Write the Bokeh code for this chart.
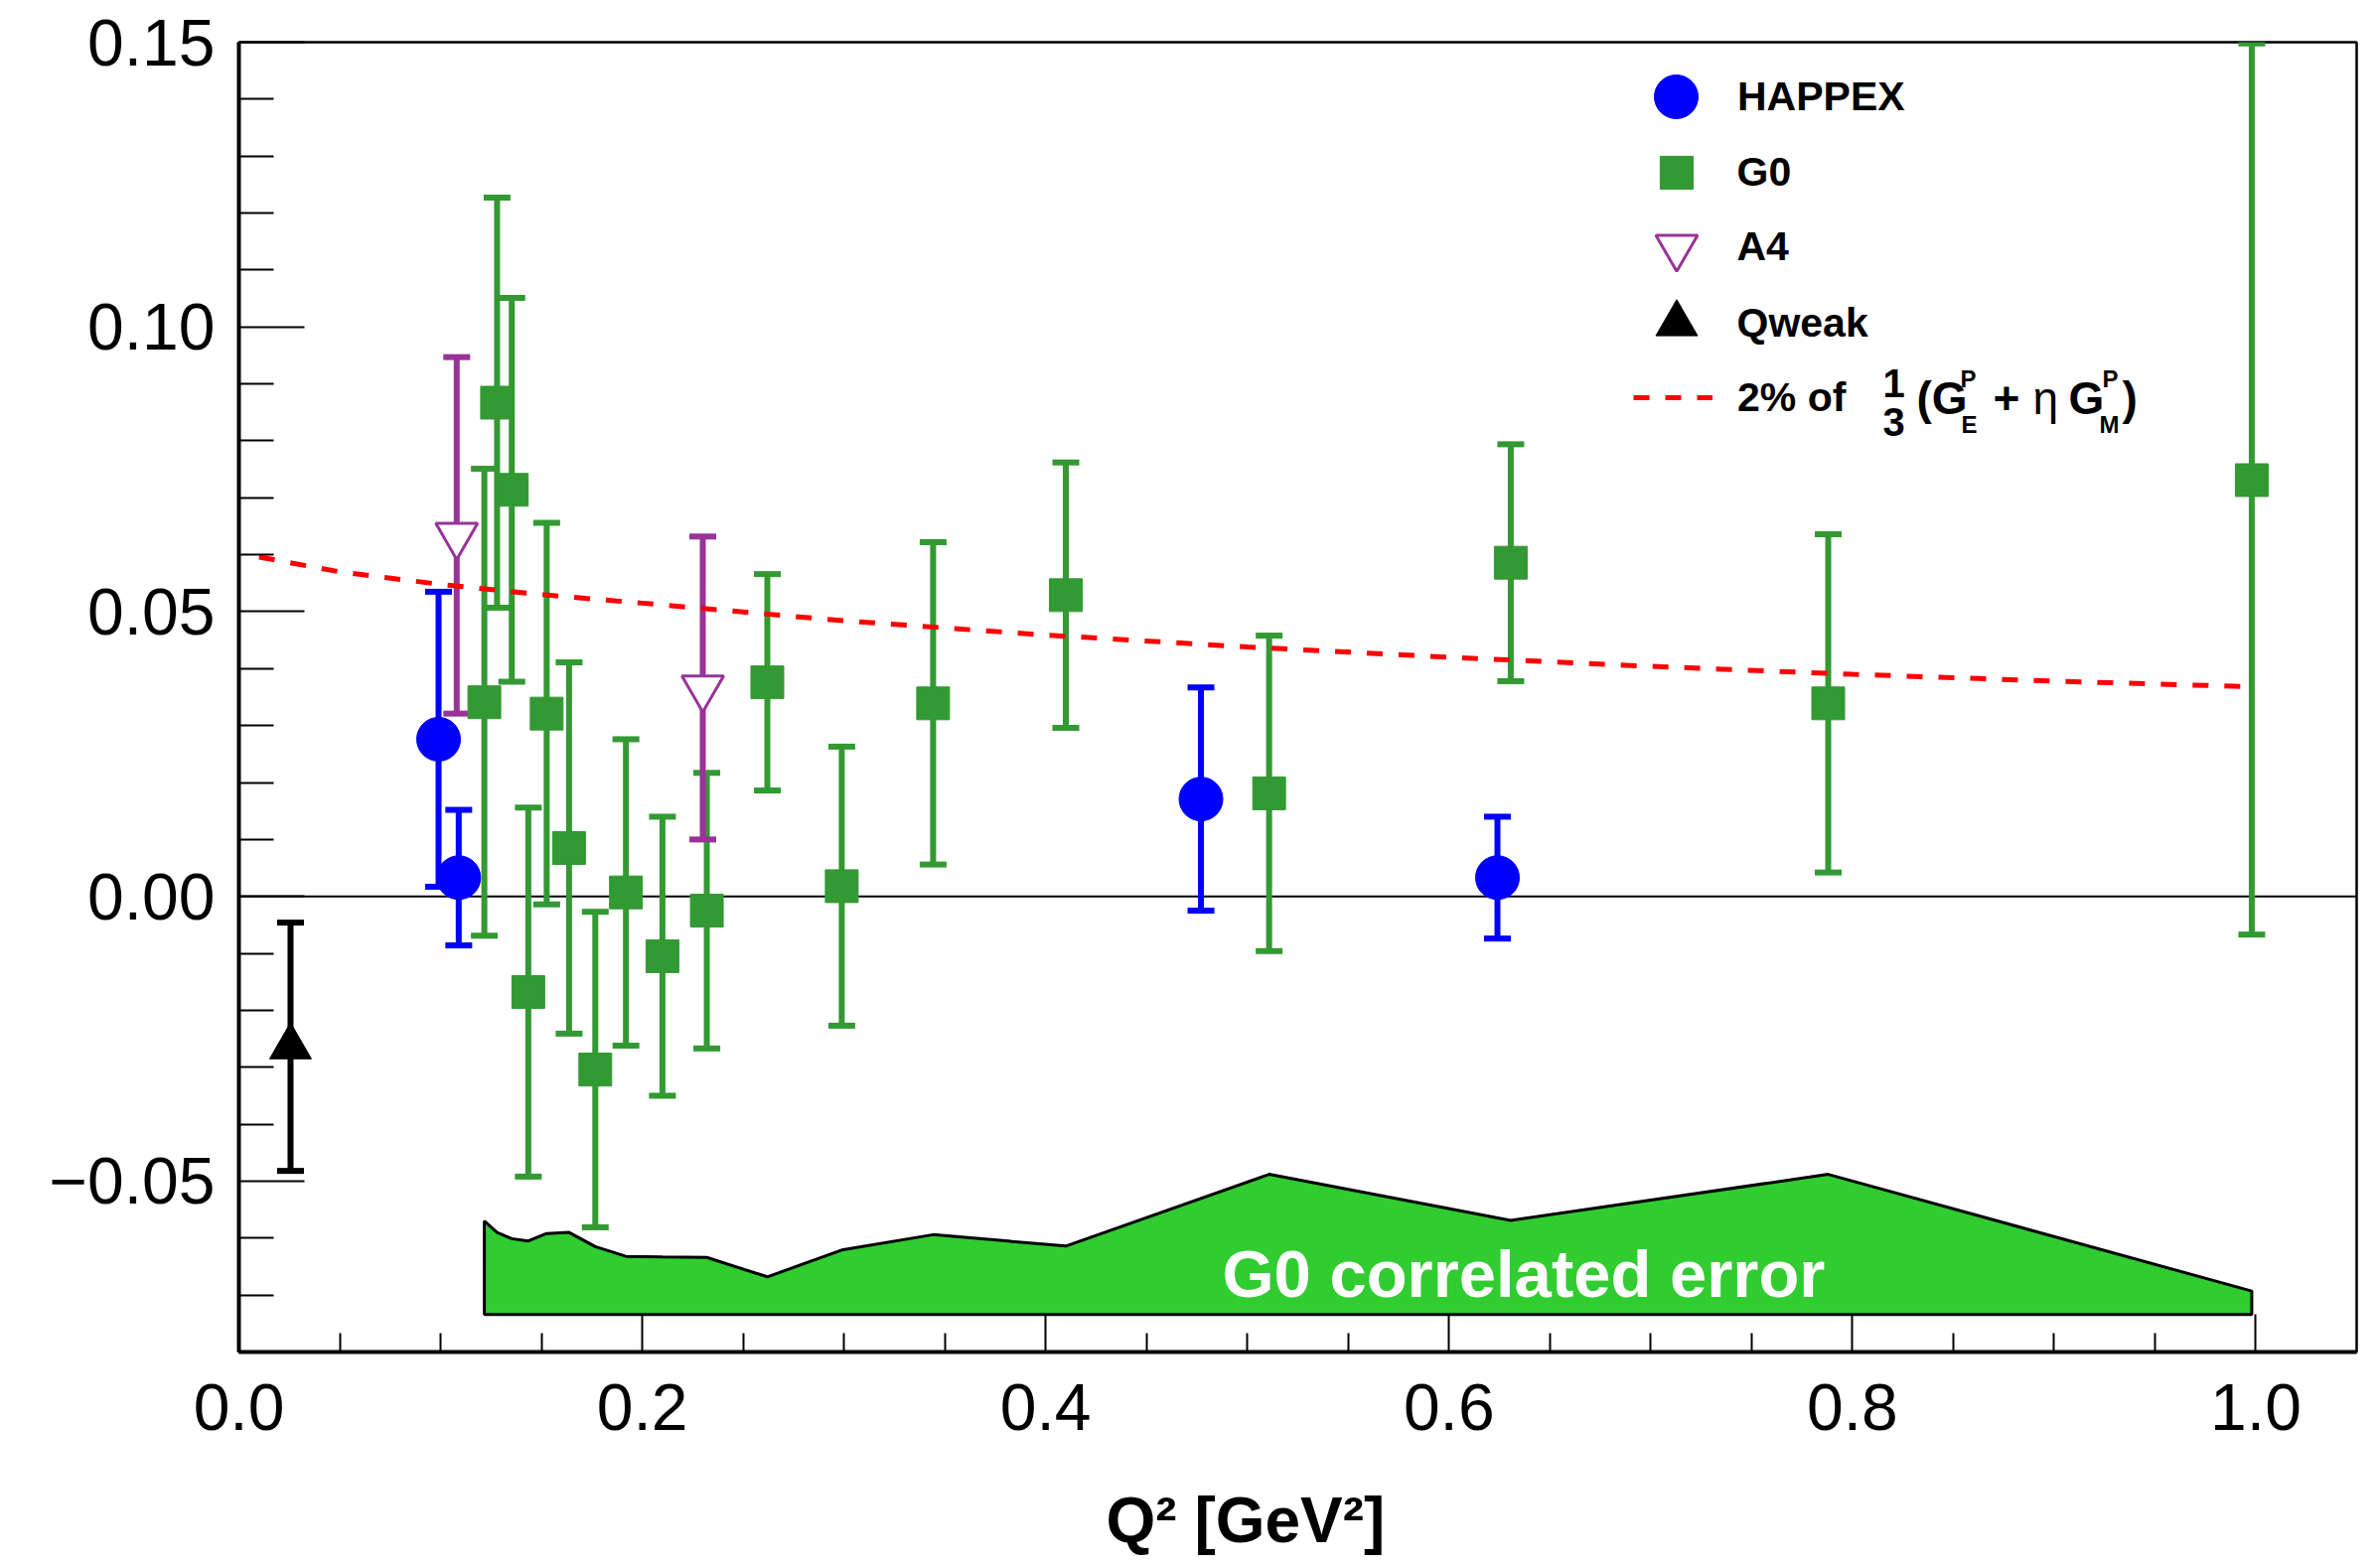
from bokeh.plotting import figure
from bokeh.models import (ColumnDataSource, Whisker, TeeHead, Span, Label, Legend,
                          LegendItem, FixedTicker, Range1d, Title)
from bokeh.embed import file_html
from bokeh.resources import INLINE

# ---------------- data ----------------
happex_q2 = [0.099, 0.109, 0.477, 0.624]
happex_val = [0.0276, 0.0033, 0.0171, 0.0033]
happex_err = [0.0259, 0.0119, 0.0196, 0.0107]

g0_q2 = [0.1217, 0.128, 0.1353, 0.1435, 0.1526, 0.1637, 0.1767, 0.1919, 0.210,
         0.232, 0.262, 0.2989, 0.3442, 0.410, 0.5108, 0.6306, 0.788, 0.998]
g0_val = [0.0341, 0.0867, 0.0714, -0.0168, 0.0321, 0.0085, -0.0304, 0.0007, -0.0105,
          -0.0025, 0.0376, 0.0018, 0.0339, 0.0529, 0.0181, 0.0586, 0.0339, 0.0731]
g0_err = [0.0410, 0.0360, 0.0337, 0.0324, 0.0335, 0.0326, 0.0277, 0.0269, 0.0245,
          0.0242, 0.0190, 0.0245, 0.0283, 0.0233, 0.0277, 0.0208, 0.0297, 0.0798]
g0_corr_top = [-0.0570, -0.0590, -0.0601, -0.0605, -0.0592, -0.0590, -0.0615, -0.0632,
               -0.0633, -0.0634, -0.0668, -0.0621, -0.0594, -0.0614, -0.0488, -0.0569,
               -0.0488, -0.0693]
g0_corr_base = -0.0734

a4_q2 = [0.108, 0.230]
a4_val = [0.0634, 0.0366]
a4_err = [0.0313, 0.0266]

qweak_q2 = [0.0256]
qweak_val = [-0.0264]
qweak_err = [0.0218]

curve_q2 = [0.01, 0.05, 0.1, 0.15, 0.2, 0.3, 0.4, 0.5, 0.6, 0.7, 0.8, 0.9, 1.0]
curve_val = [0.0596, 0.0570, 0.0548, 0.0530, 0.0515, 0.0484, 0.0459, 0.0438, 0.0420,
             0.0404, 0.0390, 0.0378, 0.0368]

x_ticks = [0.0, 0.2, 0.4, 0.6, 0.8, 1.0]
x_tick_labels = ["0.0", "0.2", "0.4", "0.6", "0.8", "1.0"]
x_minor = [0.05, 0.1, 0.15, 0.25, 0.3, 0.35, 0.45, 0.5, 0.55, 0.65, 0.7, 0.75,
           0.85, 0.9, 0.95]
y_ticks = [-0.05, 0.0, 0.05, 0.1, 0.15]
y_tick_labels = ["\u22120.05", "0.00", "0.05", "0.10", "0.15"]
y_minor = [-0.08, -0.07, -0.06, -0.04, -0.03, -0.02, -0.01, 0.01, 0.02, 0.03, 0.04,
           0.06, 0.07, 0.08, 0.09, 0.11, 0.12, 0.13, 0.14]

X_MIN, X_MAX = 0.0, 1.05
Y_MIN, Y_MAX = -0.08, 0.15

BLUE = "#0000ff"
GREEN = "#339933"
BAND = "#30cc30"
PURPLE = "#993399"
RED = "#ff0000"
FONT = "Liberation Sans"

FR_LEFT, FR_TOP, FR_RIGHT, FR_BOTTOM = 240, 42, 2372, 1361
W, H = 2380, 1576

p = figure(width=W, height=H, output_backend="svg", toolbar_location=None,
           x_range=Range1d(X_MIN, X_MAX), y_range=Range1d(Y_MIN, Y_MAX),
           min_border_left=FR_LEFT, min_border_right=W - FR_RIGHT, min_border_top=FR_TOP,
           min_border_bottom=H - FR_BOTTOM)
p.background_fill_color = "white"
p.border_fill_color = "white"
p.xgrid.visible = False
p.ygrid.visible = False
p.outline_line_color = "black"
p.outline_line_width = 2.5

# axes
xa = p.xaxis[0]
xa.ticker = FixedTicker(ticks=x_ticks, minor_ticks=x_minor)
xa.major_label_overrides = dict(zip(x_ticks, x_tick_labels))
xa.major_tick_in = 38
xa.major_tick_out = 0
xa.minor_tick_in = 19
xa.minor_tick_out = 0
xa.axis_line_width = 4
xa.major_tick_line_width = 2
xa.minor_tick_line_width = 2
xa.major_label_text_font = FONT
xa.major_label_text_font_size = "66px"
xa.major_label_text_color = "black"
xa.major_label_standoff = 32
# blank spacer label so the title below sits at the reference height
xa.axis_label = " "
xa.axis_label_text_font_size = "36px"
xa.axis_label_standoff = 8

ya = p.yaxis[0]
ya.ticker = FixedTicker(ticks=y_ticks, minor_ticks=y_minor)
ya.major_label_overrides = dict(zip(y_ticks, y_tick_labels))
ya.major_tick_in = 66
ya.major_tick_out = 0
ya.minor_tick_in = 35
ya.minor_tick_out = 0
ya.axis_line_width = 4
ya.major_tick_line_width = 2
ya.minor_tick_line_width = 2
ya.major_label_text_font = FONT
ya.major_label_text_font_size = "66px"
ya.major_label_text_color = "black"
ya.major_label_standoff = 24

# x-axis title (placed below the axis, centred near Q2 = 0.5)
p.add_layout(Title(text="Q\u00b2 [GeV\u00b2]", align="left", offset=873,
                   vertical_align="top", standoff=0, text_font=FONT,
                   text_font_style="bold", text_font_size="64px",
                   text_color="black"), "below")

# zero line
p.add_layout(Span(location=0, dimension="width", line_color="black", line_width=2,
                  level="underlay"))

# G0 correlated error band
band_x = g0_q2 + g0_q2[::-1]
band_y = g0_corr_top + [g0_corr_base] * len(g0_q2)
p.patch(band_x, band_y, fill_color=BAND, line_color="black", line_width=3)
p.add_layout(Label(x=0.637, y=-0.0663, text="G0 correlated error", text_color="white",
                   text_font=FONT, text_font_style="bold", text_font_size="67px",
                   text_align="center", text_baseline="middle"))


def add_errors(xs, ys, es, color):
    up = [min(v + e, Y_MAX - 0.0002) for v, e in zip(ys, es)]
    lo = [v - e for v, e in zip(ys, es)]
    src = ColumnDataSource(dict(x=xs, upper=up, lower=lo))
    w = Whisker(source=src, base="x", upper="upper", lower="lower", dimension="height",
                line_color=color, line_width=6,
                upper_head=TeeHead(size=27, line_color=color, line_width=6),
                lower_head=TeeHead(size=27, line_color=color, line_width=6))
    p.add_layout(w)


add_errors(g0_q2, g0_val, g0_err, GREEN)
add_errors(a4_q2, a4_val, a4_err, PURPLE)
add_errors(happex_q2, happex_val, happex_err, BLUE)
add_errors(qweak_q2, qweak_val, qweak_err, "black")

# curve
r_curve = p.line(curve_q2, curve_val, line_color=RED, line_width=5, line_dash="16 16")

# markers
r_g0 = p.scatter(g0_q2, g0_val, marker="square", size=33, fill_color=GREEN,
                 line_color=GREEN)
r_a4 = p.scatter(a4_q2, a4_val, marker="inverted_triangle", size=42, fill_color="white",
                 line_color=PURPLE, line_width=3)
r_happex = p.scatter(happex_q2, happex_val, marker="circle", size=44, fill_color=BLUE,
                     line_color=BLUE)
r_qweak = p.scatter(qweak_q2, qweak_val, marker="triangle", size=42, fill_color="black",
                    line_color="black")

# legend (positions in pixels, relative to the frame: x from left, y up from bottom)
LABEL_X = 1749 - FR_LEFT
MARK_X = 1687 - FR_LEFT


def add_legend(label, renderer, box_w, box_h, cx, page_y):
    cy = FR_BOTTOM - page_y
    left = cx - box_w / 2
    bottom = cy - box_h / 2
    lg = Legend(items=[LegendItem(label=label, renderers=[renderer])],
                location=(left, bottom), glyph_width=int(box_w), glyph_height=int(box_h),
                label_height=int(box_h), label_standoff=int(LABEL_X - (left + box_w)),
                padding=0, margin=0, spacing=0, border_line_alpha=0,
                background_fill_alpha=0, label_text_font=FONT,
                label_text_font_style="bold", label_text_font_size="41px",
                label_text_color="black")
    p.add_layout(lg)


add_legend("HAPPEX", r_happex, 110, 110, MARK_X, 97)
add_legend("G0", r_g0, 83, 83, MARK_X, 173)
add_legend("A4", r_a4, 105, 105, MARK_X, 248)
add_legend("Qweak", r_qweak, 105, 105, MARK_X, 325)
add_legend("2% of", r_curve, 80, 50, 1684 - FR_LEFT, 400)


def txt(s, page_x, page_y, size, style="bold", align="left"):
    p.add_layout(Label(x=page_x - FR_LEFT, y=FR_BOTTOM - page_y, x_units="screen",
                       y_units="screen", text=s, text_font=FONT, text_font_style=style,
                       text_font_size=size, text_align=align, text_baseline="middle",
                       text_color="black"))


# formula: 1/3 (G_E^P + eta G_M^P)
txt("1", 1906, 385, "40px", align="center")
txt("3", 1906, 424, "40px", align="center")
txt("(G", 1929, 400, "46px")
txt("P", 1973, 381, "24px")
txt("E", 1974, 427, "24px")
txt("+", 2006, 400, "46px")
txt("\u03b7", 2046, 400, "46px", style="normal")
txt("G", 2082, 400, "46px")
txt("P", 2116, 381, "24px")
txt("M", 2113, 427, "24px")
txt(")", 2136, 400, "46px")

open("out.html", "w").write(file_html(p, INLINE))
